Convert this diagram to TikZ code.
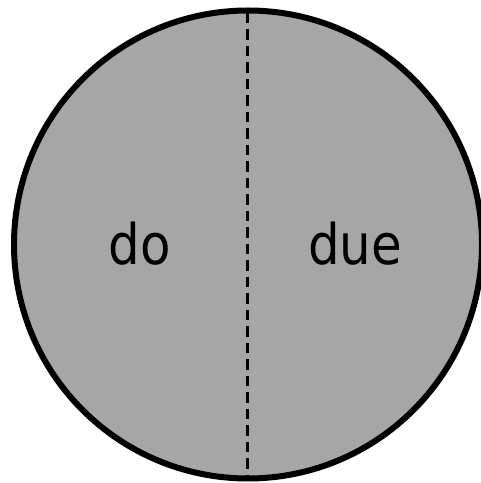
\documentclass[tikz,border=0pt]{standalone}
\usepackage{fontspec}
\setmainfont{DejaVu Sans}
\definecolor{diskgray}{RGB}{166,166,166}
\begin{document}
\begin{tikzpicture}[x=1pt,y=1pt,
  disk/.style={draw=black,fill=diskgray,line width=6pt},
  divider/.style={draw=black,line width=2.7pt,dash pattern=on 10.5pt off 6pt},
  word/.style={inner sep=0pt,anchor=base,font=\fontsize{56}{60}\selectfont,xscale=0.89}]
\useasboundingbox (0,0) rectangle (481,483);
\coordinate (c) at (248,238.5);
\draw[disk] (c) circle[radius=234];
\coordinate (top) at (247.5,470);
\coordinate (bot) at (247.5,7);
\draw[divider] (top) -- (bot);
\node[word] (do) at (140,218) {do};
\node[word] (due) at (355,218) {due};
\end{tikzpicture}
\end{document}
